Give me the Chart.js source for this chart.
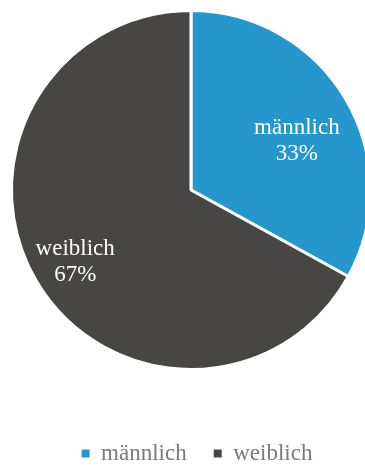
<!DOCTYPE html>
<html>
<head>
<meta charset="utf-8">
<script src="https://cdn.jsdelivr.net/npm/chart.js@4"></script>
<style>
    html, body { margin: 0; padding: 0; background: #fff; overflow: hidden; }
    #wrap { position: relative; width: 382px; height: 465px; }
</style>
</head>
<body>
<div id="wrap"><canvas id="genderChart"></canvas></div>
<script>
// Data
const categories = ['männlich', 'weiblich'];
const shares = [33, 67];
const sliceColors = ['#2597cd', '#474645'];

// label anchor of each slice, in units of the pie radius from its centre
const labelAnchor = [[0.59, -0.275], [-0.645, 0.40]];

const sliceLabels = {
    id: 'sliceLabels',
    afterDatasetsDraw(chart) {
        const ctx = chart.ctx;
        const meta = chart.getDatasetMeta(0);
        ctx.save();
        ctx.fillStyle = '#ffffff';
        ctx.font = '23px "Liberation Serif", "Times New Roman", serif';
        ctx.textAlign = 'center';
        ctx.textBaseline = 'middle';
        meta.data.forEach(function(arc, i) {
            const p = arc.getProps(['x', 'y', 'outerRadius'], true);
            const x = p.x + labelAnchor[i][0] * p.outerRadius;
            const y = p.y + labelAnchor[i][1] * p.outerRadius;
            ctx.fillText(categories[i], x, y - 13);
            ctx.fillText(shares[i] + '%', x, y + 13);
        });
        ctx.restore();
    }
};

// keep the legend low on the page, away from the pie
const legendSpacing = {
    id: 'legendSpacing',
    beforeInit(chart) {
        const fit = chart.legend.fit;
        chart.legend.fit = function() {
            fit.bind(chart.legend)();
            this.height = 94;
        };
    },
    afterLayout(chart) {
        chart.legend.top += 44;
        chart.legend.bottom += 44;
        chart.legend.left += 6;
        chart.legend.right += 6;
    }
};

new Chart(document.getElementById('genderChart').getContext('2d'), {
    type: 'pie',
    data: {
        labels: categories,
        datasets: [{
            data: shares,
            backgroundColor: sliceColors,
            borderColor: '#ffffff',
            borderWidth: 3
        }]
    },
    options: {
        responsive: true,
        maintainAspectRatio: false,
        animation: false,
        layout: {
            padding: { top: 9, left: 0, right: 0, bottom: 0 }
        },
        plugins: {
            legend: {
                position: 'bottom',
                labels: {
                    boxWidth: 8,
                    boxHeight: 8,
                    padding: 27,
                    color: '#7a7a7a',
                    font: { family: '"Liberation Serif", serif', size: 23 },
                    generateLabels(chart) {
                        return categories.map(function(name, i) {
                            return {
                                text: name,
                                fillStyle: sliceColors[i],
                                strokeStyle: sliceColors[i],
                                lineWidth: 0,
                                fontColor: '#7a7a7a',
                                hidden: false,
                                index: i
                            };
                        });
                    }
                }
            },
            tooltip: { enabled: false }
        }
    },
    plugins: [sliceLabels, legendSpacing]
});
</script>
</body>
</html>
